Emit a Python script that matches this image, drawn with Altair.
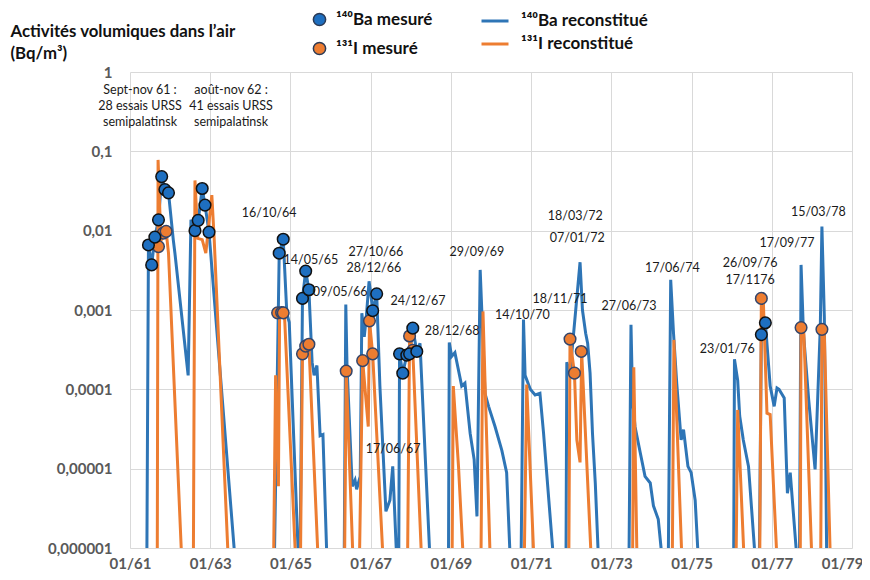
import altair as alt
import pandas as pd

BELOW = 7e-7  # below the lower limit of the chart (line leaves the frame)

# 140Ba reconstitué
ba_year = [1961.42, 1961.46, 1961.54, 1961.62, 1961.71, 1961.79, 1961.87, 1961.96, 1962.08, 1962.12,
           1962.45, 1962.52, 1962.62, 1962.70, 1962.80, 1962.87, 1962.97, 1963.62,
           1964.60, 1964.72, 1964.82, 1964.91, 1964.97, 1965.20,
           1965.24, 1965.30, 1965.38, 1965.46, 1965.54, 1965.59, 1965.66, 1965.74, 1965.81, 1965.91,
           1966.34, 1966.38, 1966.41, 1966.54, 1966.61, 1966.65, 1966.74, 1966.78, 1966.84, 1966.89,
           1966.96, 1967.01, 1967.05, 1967.15, 1967.23, 1967.38, 1967.48, 1967.55, 1967.65,
           1967.70, 1967.72, 1967.80, 1967.90, 1967.97, 1968.05, 1968.15, 1968.23, 1968.48,
           1968.94, 1968.96, 1969.02, 1969.10, 1969.27, 1969.35, 1969.48, 1969.58, 1969.65,
           1969.73, 1969.77, 1969.85, 1969.94, 1970.10, 1970.27, 1970.39, 1970.48,
           1970.75, 1970.81, 1970.85, 1970.98, 1971.10, 1971.22, 1971.31, 1971.56,
           1971.87, 1971.89, 1971.97, 1972.22, 1972.28, 1972.36, 1972.41, 1972.47, 1972.53, 1972.60, 1972.68,
           1973.44, 1973.49, 1973.53, 1973.59, 1973.72, 1973.84, 1973.97, 1974.05, 1974.17, 1974.27,
           1974.42, 1974.48, 1974.55, 1974.63, 1974.74, 1974.80, 1974.91, 1974.99, 1975.09, 1975.17,
           1976.05, 1976.07, 1976.15, 1976.20, 1976.29, 1976.42, 1976.59,
           1976.69, 1976.74, 1976.84, 1976.96, 1977.06, 1977.13, 1977.18, 1977.31, 1977.39, 1977.46, 1977.63,
           1977.69, 1977.73, 1977.79, 1977.92, 1978.08, 1978.21, 1978.25, 1978.31, 1978.37]
ba_value = [BELOW, 0.0066, 0.0037, 0.0083, 0.0137, 0.048, 0.033, 0.030, 0.0076, 0.0052,
            0.00015, 0.0137, 0.010, 0.0135, 0.034, 0.021, 0.0096, BELOW,
            BELOW, 0.0052, 0.0078, 0.0009, 0.0007, BELOW,
            BELOW, 0.0014, 0.0031, 0.0018, 0.00022, 0.00015, 0.0002, 2.6e-5, 2.7e-5, BELOW,
            BELOW, 0.00117, 0.0002, 6e-6, 7.2e-6, 5.5e-6, 8e-6, 0.00091, 0.00046, 0.0008,
            0.0023, 0.0015, 0.00098, 0.0016, 0.00011, 2.9e-6, 4e-6, 1.07e-5, BELOW,
            BELOW, 0.00028, 0.00016, 0.00027, 0.00028, 0.00059, 0.0003, 0.00038, BELOW,
            BELOW, 0.00039, 0.00026, 0.00029, 0.00011, 0.00012, 2.8e-5, 1.3e-5, 2.5e-6,
            0.0032, 0.001, 8.9e-5, 6.1e-5, 3.4e-5, 1.7e-5, 8.9e-6, BELOW,
            BELOW, 0.00076, 0.00015, 0.0001, 8.5e-5, 8.9e-5, 2.8e-5, BELOW,
            BELOW, 0.00022, 0.00016, 0.004, 0.001, 0.00051, 0.00038, 0.00016, 2.8e-5, 6.6e-6, BELOW,
            BELOW, 0.00065, 7.4e-5, 3.4e-5, 1.6e-5, 8e-6, 6.6e-6, 3.4e-6, 2.3e-6, BELOW,
            BELOW, 0.0024, 0.00051, 0.00012, 2.3e-5, 3.1e-5, 1.07e-5, 8.9e-6, 4e-6, BELOW,
            BELOW, 0.00024, 0.00013, 4.6e-5, 2.3e-5, 1.07e-5, BELOW,
            BELOW, 0.00049, 0.00069, 0.00011, 6.1e-5, 0.000104, 0.0001, 7.8e-5, 4.9e-6, 8.9e-6, BELOW,
            BELOW, 0.0037, 0.00051, 7.4e-5, 9.8e-6, 0.00062, 0.0113, 0.00083, BELOW]

# 131I reconstitué
i_year = [1961.68, 1961.70, 1961.77, 1961.83, 1961.90, 1961.96, 1962.29,
          1962.58, 1962.62, 1962.69, 1962.80, 1962.89, 1963.04, 1963.10, 1963.45,
          1964.58, 1964.63, 1964.70, 1964.73, 1964.80, 1964.85, 1965.13,
          1965.25, 1965.30, 1965.38, 1965.46, 1965.69,
          1966.35, 1966.39, 1966.56, 1966.72, 1966.80, 1966.94, 1966.97, 1967.05, 1967.31,
          1967.92, 1967.97, 1968.05, 1968.27,
          1969.03, 1969.06, 1969.19, 1969.31, 1969.75, 1969.80, 1969.98,
          1970.83, 1970.89, 1971.07,
          1971.94, 1971.96, 1971.97, 1972.08, 1972.14, 1972.22, 1972.26, 1972.50,
          1973.53, 1973.56, 1973.64, 1974.52, 1974.56, 1974.76,
          1976.11, 1976.15, 1976.31, 1976.70, 1976.74, 1976.79, 1976.88, 1976.96, 1977.13,
          1977.71, 1977.73, 1977.80, 1978.00, 1978.22, 1978.25, 1978.31, 1978.46]
i_value = [BELOW, 0.078, 0.0075, 0.0085, 0.0098, 0.0052, BELOW,
           BELOW, 0.043, 0.008, 0.0077, 0.0052, 0.028, 0.0076, BELOW,
           BELOW, 0.00015, 6e-6, 0.00093, 0.00093, 0.0009, BELOW,
           BELOW, 0.00028, 0.00035, 0.00037, BELOW,
           BELOW, 0.00017, BELOW, BELOW, 0.00023, 3.4e-5, 0.00073, 0.00028, BELOW,
           BELOW, 0.00047, 0.00031, BELOW,
           BELOW, 0.00011, 1.07e-5, BELOW, BELOW, 0.00096, BELOW,
           BELOW, 0.000115, BELOW,
           BELOW, 5e-5, 0.00043, 0.00016, 2.3e-5, 1.2e-5, 0.0003, BELOW,
           BELOW, 0.00019, BELOW, BELOW, 0.00042, BELOW,
           BELOW, 5.5e-5, BELOW, BELOW, 0.0014, 0.0013, 5e-5, 4.8e-5, BELOW,
           BELOW, 0.0006, 0.0005, BELOW, BELOW, 0.00057, 0.0005, BELOW]

# 140Ba mesuré
ba_meas_year = [1961.46, 1961.54, 1961.62, 1961.71, 1961.79, 1961.87, 1961.96,
                1962.62, 1962.70, 1962.80, 1962.87, 1962.97,
                1964.72, 1964.82, 1965.30, 1965.38, 1965.46, 1967.05, 1967.15,
                1967.72, 1967.80, 1967.90, 1967.97, 1968.05, 1968.15,
                1976.74, 1976.84]
ba_meas_value = [0.0066, 0.0037, 0.0083, 0.0137, 0.048, 0.033, 0.030,
                 0.010, 0.0135, 0.034, 0.021, 0.0096,
                 0.0052, 0.0078, 0.0014, 0.0031, 0.0018, 0.00098, 0.0016,
                 0.00028, 0.00016, 0.00027, 0.00028, 0.00059, 0.0003,
                 0.00049, 0.00069]

# 131I mesuré
i_meas_year = [1961.71, 1961.83, 1961.90, 1964.68, 1964.78, 1964.82,
               1965.30, 1965.38, 1965.46, 1966.39, 1966.80, 1966.97, 1967.05,
               1967.97, 1968.05, 1971.97, 1972.08, 1972.25, 1976.74, 1977.73, 1978.25]
i_meas_value = [0.0063, 0.0093, 0.0098, 0.00092, 0.00093, 0.00092,
                0.00028, 0.00035, 0.00037, 0.00017, 0.00023, 0.00073, 0.00028,
                0.00047, 0.00031, 0.00043, 0.00016, 0.0003, 0.0014, 0.0006, 0.00057]

# annotations
ann_text = ["Sept-nov 61 :", "28 essais URSS", "semipalatinsk",
            "août-nov 62 :", "41 essais URSS", "semipalatinsk",
            "16/10/64", "14/05/65", "09/05/66", "27/10/66", "28/12/66", "24/12/67",
            "28/12/68", "29/09/69", "17/06/67", "14/10/70", "18/11/71", "18/03/72",
            "07/01/72", "27/06/73", "17/06/74", "23/01/76", "26/09/76", "17/1176",
            "17/09/77", "15/03/78"]
ann_year = [1961.25, 1961.25, 1961.25, 1963.52, 1963.52, 1963.52,
            1964.47, 1965.51, 1966.24, 1967.13, 1967.08, 1968.18,
            1969.03, 1969.65, 1967.56, 1970.78, 1971.72, 1972.10,
            1972.15, 1973.44, 1974.52, 1975.89, 1976.46, 1976.46,
            1977.38, 1978.16]
ann_value = [0.593, 0.373, 0.234, 0.593, 0.373, 0.234,
             0.0168, 0.00429, 0.00169, 0.0054, 0.0034, 0.00131,
             0.000547, 0.0054, 1.79e-5, 0.00087, 0.00138, 0.0154,
             0.0081, 0.00113, 0.0034, 0.000325, 0.00393, 0.0024,
             0.0070, 0.0173]

x_ticks = [1961, 1963, 1965, 1967, 1969, 1971, 1973, 1975, 1977, 1979]
y_ticks = [1e-6, 1e-5, 1e-4, 1e-3, 1e-2, 1e-1, 1]

BA_REC = "¹⁴⁰Ba reconstitué"
I_REC = "¹³¹I   reconstitué"
BA_MES = "¹⁴⁰Ba mesuré"
I_MES = "¹³¹I mesuré"

BLUE = "#2E75B6"
ORANGE = "#ED7D31"
FONT = "Lato"

ba_line_df = pd.DataFrame({"year": ba_year, "value": ba_value, "serie": BA_REC})
i_line_df = pd.DataFrame({"year": i_year, "value": i_value, "serie": I_REC})
ba_pt_df = pd.DataFrame({"year": ba_meas_year, "value": ba_meas_value, "serie": BA_MES})
i_pt_df = pd.DataFrame({"year": i_meas_year, "value": i_meas_value, "serie": I_MES})
ann_df = pd.DataFrame({"year": ann_year, "value": ann_value, "txt": ann_text})

x_enc = alt.X("year:Q",
              scale=alt.Scale(domain=[1961, 1979], nice=False, zero=False),
              axis=alt.Axis(values=x_ticks,
                            labelExpr="'01/' + substring(toString(datum.value), 2, 4)",
                            grid=True, gridColor="#D9D9D9", gridWidth=1,
                            domain=False, ticks=False, labelFlush=False, labelOverlap=False,
                            labelAlign={"condition": {"test": "datum.value >= 1979", "value": "right"},
                                        "value": "center"},
                            labelOffset={"condition": {"test": "datum.value >= 1979", "value": 11},
                                         "value": 0},
                            labelFont=FONT, labelFontWeight="bold", labelFontSize=15,
                            labelColor="#595959", labelPadding=8, title=None))
y_enc = alt.Y("value:Q",
              scale=alt.Scale(type="log", domain=[1e-6, 1], nice=False),
              axis=alt.Axis(values=y_ticks,
                            labelExpr="replace(format(datum.value, '.6~f'), '.', ',')",
                            grid=True, gridColor="#D9D9D9", gridWidth=1,
                            domain=False, ticks=False, labelOverlap=False,
                            labelFont=FONT, labelFontWeight="bold", labelFontSize=15,
                            labelColor="#595959", labelPadding=18,
                            title=["Activités volumiques dans l’air", "(Bq/m³)"],
                            titleAngle=0, titleAlign="left", titleBaseline="alphabetic",
                            titleX=-120, titleY=-36, titleFont=FONT, titleFontSize=16.8,
                            titleFontWeight="bold", titleColor="#111111", titleLineHeight=22))

stroke_scale = alt.Scale(domain=[BA_REC, I_REC], range=[BLUE, ORANGE])
stroke_legend = alt.Legend(title=None, orient="none", legendX=350, legendY=-66,
                           symbolType="stroke", symbolSize=729, symbolStrokeWidth=3,
                           labelFont=FONT, labelFontSize=17, labelFontWeight="bold",
                           labelColor="#111111", labelOffset=11, rowPadding=0, labelLimit=300)
fill_scale = alt.Scale(domain=[BA_MES, I_MES], range=["#1E6FC0", ORANGE])
fill_legend = alt.Legend(title=None, orient="none", legendX=181, legendY=-61,
                         symbolType="circle", symbolSize=150, symbolStrokeColor="#2B3A55",
                         symbolStrokeWidth=1.5,
                         labelFont=FONT, labelFontSize=17, labelFontWeight="bold",
                         labelColor="#111111", labelOffset=8, rowPadding=10, labelLimit=300)

ba_line = alt.Chart(ba_line_df).mark_line(strokeWidth=3, clip=True).encode(
    x=x_enc, y=y_enc,
    stroke=alt.Stroke("serie:N", scale=stroke_scale, legend=stroke_legend))
i_line = alt.Chart(i_line_df).mark_line(strokeWidth=3, clip=True).encode(
    x=x_enc, y=y_enc,
    stroke=alt.Stroke("serie:N", scale=stroke_scale, legend=stroke_legend))

i_pts = alt.Chart(i_pt_df).mark_point(shape="circle", filled=True, size=135, opacity=1,
                                      stroke="#34456A", strokeWidth=1.5, clip=True).encode(
    x=x_enc, y=y_enc,
    fill=alt.Fill("serie:N", scale=fill_scale, legend=fill_legend))
ba_pts = alt.Chart(ba_pt_df).mark_point(shape="circle", filled=True, size=135, opacity=1,
                                        stroke="#111111", strokeWidth=1.5, clip=True).encode(
    x=x_enc, y=y_enc,
    fill=alt.Fill("serie:N", scale=fill_scale, legend=fill_legend))

ann = alt.Chart(ann_df).mark_text(font=FONT, fontSize=12.5, color="#1a1a1a",
                                  align="center", baseline="middle").encode(
    x=x_enc, y=y_enc, text="txt:N")

chart = alt.layer(ba_line, i_line, i_pts, ba_pts, ann).properties(
    width=722, height=476,
    padding={"left": 122, "top": 64, "right": 10, "bottom": 22},
    autosize=alt.AutoSizeParams(type="none"),
).configure_view(strokeWidth=0)

chart.save("out.html", embed_options={"renderer": "svg", "actions": False})
